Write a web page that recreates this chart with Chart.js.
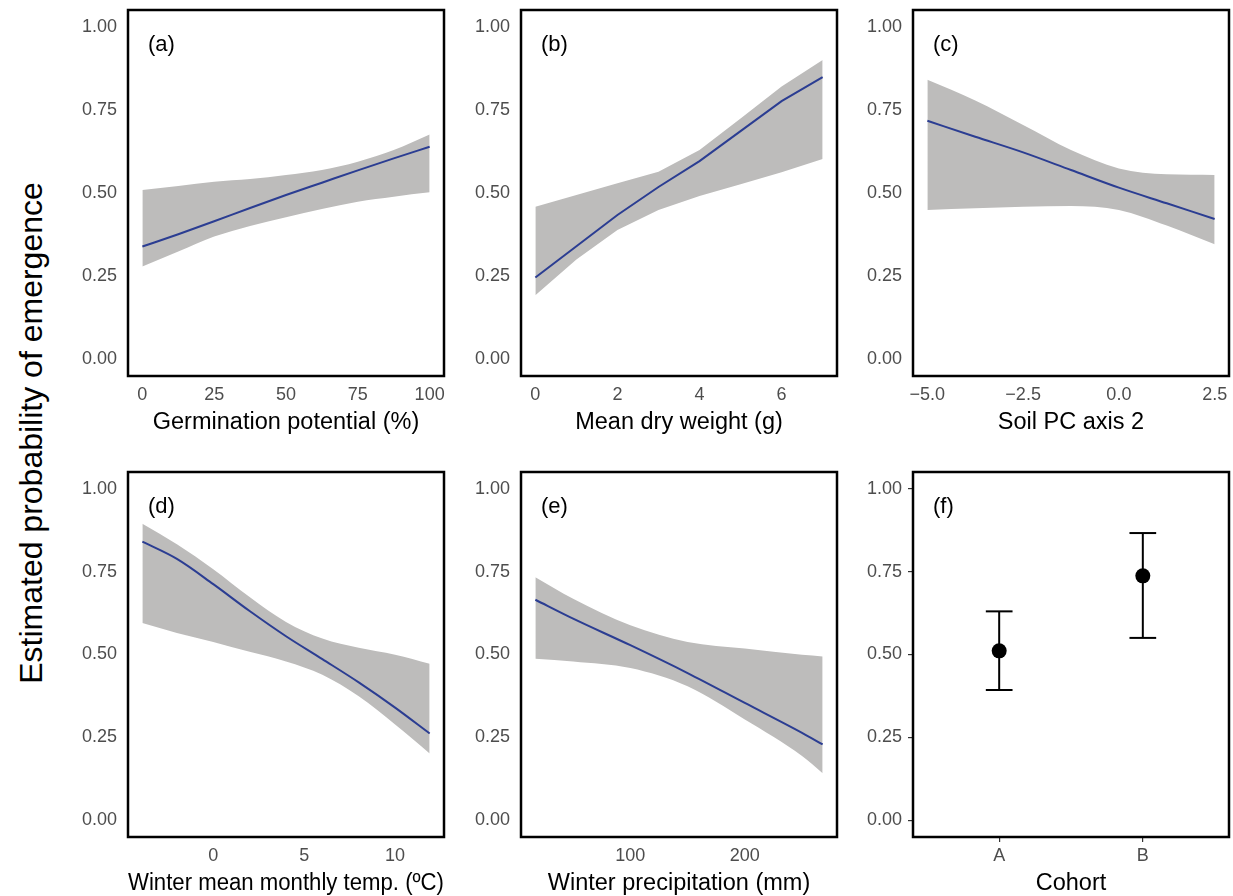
<!DOCTYPE html>
<html>
<head>
<meta charset="utf-8">
<title>Estimated probability of emergence</title>
<script src="https://cdn.jsdelivr.net/npm/chart.js@4.4.1/dist/chart.umd.min.js"></script>
<style>
  body { margin:0; width:1233px; height:896px; background:#fff; position:relative; overflow:hidden;
         font-family:"Liberation Sans", Arial, sans-serif; }
  canvas.panel { position:absolute; }
  #ytitle { position:absolute; left:31px; top:433px; transform:translate(-50%,-50%) rotate(-90deg);
            font-size:32px; color:#000; white-space:nowrap; }
</style>
</head>
<body>
<div id="ytitle">Estimated probability of emergence</div>
<canvas id="pa" class="panel"></canvas>
<canvas id="pb" class="panel"></canvas>
<canvas id="pc" class="panel"></canvas>
<canvas id="pd" class="panel"></canvas>
<canvas id="pe" class="panel"></canvas>
<canvas id="pf" class="panel"></canvas>
<script>
// ============================================================
// EMERGENCE EFFECTS – six panel figure
// ============================================================

// ── Data ─────────────────────────────────────────────────
const yTicks = [0, 0.25, 0.5, 0.75, 1];

// (a) germination potential
const germX     = [0, 12.5, 25, 37.5, 50, 62.5, 75, 87.5, 100];
const germFit   = [0.339, 0.376, 0.415, 0.455, 0.494, 0.531, 0.568, 0.604, 0.639];
const germUpper = [0.509, 0.521, 0.534, 0.542, 0.554, 0.569, 0.594, 0.629, 0.676];
const germLower = [0.279, 0.324, 0.369, 0.401, 0.427, 0.452, 0.474, 0.489, 0.502];
const germTicks = [0, 25, 50, 75, 100];

// (b) mean dry weight
const dryX     = [0, 1, 2, 3, 4, 5, 6, 7];
const dryFit   = [0.246, 0.340, 0.434, 0.518, 0.596, 0.686, 0.776, 0.848];
const dryUpper = [0.459, 0.494, 0.529, 0.564, 0.629, 0.724, 0.820, 0.900];
const dryLower = [0.193, 0.300, 0.389, 0.449, 0.491, 0.526, 0.562, 0.602];
const dryTicks = [0, 2, 4, 6];

// (c) soil PC axis 2
const soilX     = [-5, -3.75, -2.5, -1.25, 0, 1.25, 2.5];
const soilFit   = [0.717, 0.669, 0.622, 0.569, 0.516, 0.469, 0.422];
const soilUpper = [0.840, 0.778, 0.704, 0.629, 0.574, 0.556, 0.554];
const soilLower = [0.449, 0.454, 0.459, 0.461, 0.449, 0.402, 0.346];
const soilTicks = [-5, -2.5, 0, 2.5];

// (d) winter mean monthly temperature
const tempX     = [-3.9, -2, 0, 2, 4, 6, 8, 10, 11.9];
const tempFit   = [0.840, 0.788, 0.712, 0.631, 0.555, 0.486, 0.416, 0.340, 0.262];
const tempUpper = [0.894, 0.832, 0.757, 0.673, 0.598, 0.548, 0.520, 0.499, 0.472];
const tempLower = [0.595, 0.565, 0.538, 0.508, 0.479, 0.439, 0.374, 0.289, 0.202];
const tempTicks = [0, 5, 10];

// (e) winter precipitation
const precX     = [17, 50, 100, 150, 200, 250, 268];
const precFit   = [0.665, 0.608, 0.528, 0.444, 0.354, 0.264, 0.229];
const precUpper = [0.733, 0.668, 0.588, 0.538, 0.518, 0.499, 0.494];
const precLower = [0.487, 0.479, 0.459, 0.404, 0.304, 0.194, 0.142];
const precTicks = [100, 200];

// (f) cohort
const cohorts   = ['A', 'B'];
const cohortEst = [0.511, 0.737];
const cohortLo  = [0.393, 0.550];
const cohortHi  = [0.630, 0.866];

// ── Styles ────────────────────────────────────────────────
const FONT      = '"Liberation Sans", Arial, sans-serif';
const LINE_COL  = '#2b3d92';
const BAND_COL  = '#bdbcbb';
const TICK_COL  = '#4d4d4d';
const AXIS_W    = 70;   // room for y tick labels
const XAXIS_H   = 66;   // room for x tick labels + title
const EDGE      = 10;   // canvas margin above / right of the plot box

// panel boxes (plot area, page px)
const boxes = {
  pa: { l: 128, t: 10,  r: 444,  b: 376 },
  pb: { l: 521, t: 10,  r: 837,  b: 376 },
  pc: { l: 913, t: 10,  r: 1229, b: 376 },
  pd: { l: 128, t: 472, r: 444,  b: 837 },
  pe: { l: 521, t: 472, r: 837,  b: 837 },
  pf: { l: 913, t: 472, r: 1229, b: 837 }
};

// ── Frame + panel tag plugin ─────────────────────────────
const framePlugin = {
  id: 'frame',
  afterDraw(chart, args, opts) {
    const { ctx, chartArea: a } = chart;
    ctx.save();
    ctx.lineWidth = 2.5;
    ctx.strokeStyle = '#000';
    ctx.strokeRect(a.left, a.top, a.right - a.left, a.bottom - a.top);
    ctx.fillStyle = '#000';
    ctx.font = '22px ' + FONT;
    ctx.textBaseline = 'middle';
    ctx.fillText(opts.tag, a.left + 20, a.top + 35);
    ctx.restore();
  }
};

// 5% padding either side, like the original plots
function expand(lo, hi, f) {
  const d = (hi - lo) * f;
  return [lo - d, hi + d];
}

const pts = (xs, ys) => xs.map((x, i) => ({ x: x, y: ys[i] }));

function axisTitle(text) {
  return { display: true, text: text, color: '#000',
           font: { family: FONT, size: 23.5, lineHeight: 1.2 }, padding: { top: 0, bottom: 5 } };
}

function scalesFor(xRange, xTicks, xTitle, fmt, withTicks) {
  const grid = withTicks
    ? { display: true, drawOnChartArea: false, drawTicks: true, tickLength: 5, color: '#333', lineWidth: 1.2 }
    : { display: false, drawTicks: false };
  const pad = withTicks ? 6 : 11;
  return {
    x: {
      type: 'linear', min: xRange[0], max: xRange[1],
      grid: grid, border: { display: false },
      afterBuildTicks: s => { s.ticks = xTicks.map(v => ({ value: v })); },
      afterFit: s => { s.height = XAXIS_H; s.paddingLeft = 0; s.paddingRight = 0; },
      ticks: { color: TICK_COL, font: { family: FONT, size: 18 }, padding: withTicks ? 3 : 8,
               maxRotation: 0, autoSkip: false, callback: fmt },
      title: axisTitle(xTitle)
    },
    y: {
      type: 'linear', min: -0.05, max: 1.05,
      grid: grid, border: { display: false },
      afterBuildTicks: s => { s.ticks = yTicks.map(v => ({ value: v })); },
      afterFit: s => { s.width = AXIS_W; s.paddingTop = 0; s.paddingBottom = 0; },
      ticks: { color: TICK_COL, font: { family: FONT, size: 18 }, padding: pad,
               callback: v => v.toFixed(2) }
    }
  };
}

function placeCanvas(id) {
  const b = boxes[id];
  const c = document.getElementById(id);
  c.width  = (b.r - b.l) + AXIS_W + EDGE;
  c.height = (b.b - b.t) + XAXIS_H + EDGE;
  c.style.left = (b.l - AXIS_W) + 'px';
  c.style.top  = (b.t - EDGE) + 'px';
  return c;
}

const baseOptions = () => ({
  responsive: false, animation: false, devicePixelRatio: 1, events: [],
  layout: { padding: { left: 0, top: EDGE, right: EDGE, bottom: 0 } }
});

// ── Effect panel: fitted line over a grey band ──────────
function effectPanel(id, tag, xs, fit, lower, upper, xTicks, xTitle, fmt, smooth) {
  const c = placeCanvas(id);
  const curve = smooth ? { cubicInterpolationMode: 'monotone' } : { tension: 0 };
  new Chart(c.getContext('2d'), {
    type: 'line',
    data: {
      datasets: [
        Object.assign({ data: pts(xs, fit), borderColor: LINE_COL, borderWidth: 2,
                        pointRadius: 0, fill: false }, curve),
        Object.assign({ data: pts(xs, upper), borderWidth: 0, borderColor: 'rgba(0,0,0,0)',
                        backgroundColor: BAND_COL, pointRadius: 0, fill: '+1' }, curve),
        Object.assign({ data: pts(xs, lower), borderWidth: 0, borderColor: 'rgba(0,0,0,0)',
                        pointRadius: 0, fill: false }, curve)
      ]
    },
    options: Object.assign(baseOptions(), {
      plugins: { legend: { display: false }, tooltip: { enabled: false }, frame: { tag: tag } },
      scales: scalesFor(expand(xs[0], xs[xs.length - 1], 0.05), xTicks, xTitle, fmt, false)
    }),
    plugins: [framePlugin]
  });
}

const plain = v => String(v);
const oneDp = v => v.toFixed(1).replace('-', '\u2212');

effectPanel('pa', '(a)', germX, germFit, germLower, germUpper, germTicks, 'Germination potential (%)', plain, true);
effectPanel('pb', '(b)', dryX, dryFit, dryLower, dryUpper, dryTicks, 'Mean dry weight (g)', plain, false);
effectPanel('pc', '(c)', soilX, soilFit, soilLower, soilUpper, soilTicks, 'Soil PC axis 2', oneDp, true);
effectPanel('pd', '(d)', tempX, tempFit, tempLower, tempUpper, tempTicks, 'Winter mean monthly temp. (\u00baC)', plain, true);
effectPanel('pe', '(e)', precX, precFit, precLower, precUpper, precTicks, 'Winter precipitation (mm)', plain, true);

// ── Cohort panel: points with error bars ─────────────────
(function cohortPanel() {
  const c = placeCanvas('pf');
  const capHalf = 0.093;
  const seg = d => ({ data: d, borderColor: '#000', borderWidth: 2, pointRadius: 0, fill: false, tension: 0 });
  const bars = [];
  cohorts.forEach((name, i) => {
    const x = i + 1;
    bars.push(seg([{ x: x, y: cohortLo[i] }, { x: x, y: cohortHi[i] }]));
    bars.push(seg([{ x: x - capHalf, y: cohortHi[i] }, { x: x + capHalf, y: cohortHi[i] }]));
    bars.push(seg([{ x: x - capHalf, y: cohortLo[i] }, { x: x + capHalf, y: cohortLo[i] }]));
  });
  new Chart(c.getContext('2d'), {
    type: 'line',
    data: {
      datasets: [
        { data: cohorts.map((n, i) => ({ x: i + 1, y: cohortEst[i] })), showLine: false,
          pointRadius: 7.5, pointBackgroundColor: '#000', pointBorderColor: '#000', pointBorderWidth: 0 }
      ].concat(bars)
    },
    options: Object.assign(baseOptions(), {
      plugins: { legend: { display: false }, tooltip: { enabled: false }, frame: { tag: '(f)' } },
      scales: scalesFor([0.4, cohorts.length + 0.6], cohorts.map((n, i) => i + 1), 'Cohort',
                        v => cohorts[v - 1], true)
    }),
    plugins: [framePlugin]
  });
})();
</script>
</body>
</html>
